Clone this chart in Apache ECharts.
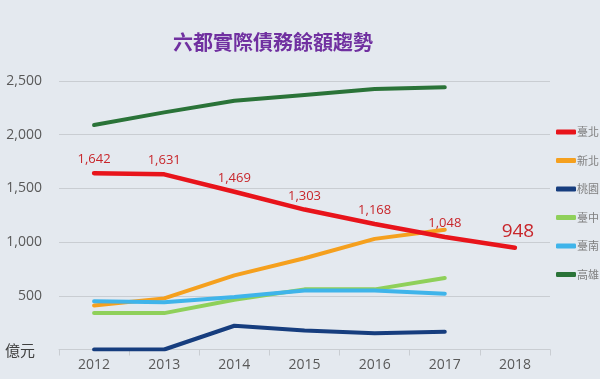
<!DOCTYPE html>
<html>
<head>
<meta charset="utf-8">
<script src="https://cdn.jsdelivr.net/npm/echarts@6/dist/echarts.min.js"></script>
<style>html,body{margin:0;padding:0;background:#e4e9ef;}#c{width:600px;height:379px;}</style>
</head>
<body>
<div id="c"></div>
<script>
const years = ['2012','2013','2014','2015','2016','2017','2018'];
const taipei   = [1642, 1631, 1469, 1303, 1168, 1048, 948];
const newTaipei= [410, 476, 690, 850, 1030, 1115, null];
const taoyuan  = [0, 0, 221, 177, 152, 165, null];
const taichung = [339, 339, 463, 560, 560, 665, null];
const tainan   = [450, 441, 488, 550, 550, 520, null];
const kaohsiung= [2090, 2208, 2317, 2370, 2425, 2441, null];
const yTicks = [0, 500, 1000, 1500, 2000, 2500];

const chart = echarts.init(document.getElementById('c'));
const font = '"Open Sans", "Liberation Sans", "Noto Sans CJK TC", sans-serif';
function line(name, data, color, extra) {
  return Object.assign({
    name, type: 'line', data, showSymbol: false, symbol: 'none',
    lineStyle: { width: 4, color, cap: 'round', join: 'round' },
    itemStyle: { color }, connectNulls: false, z: 2
  }, extra || {});
}
chart.setOption({
  backgroundColor: '#e4e9ef',
  animation: false,
  title: {
    text: '六都實際債務餘額趨勢', left: 168, top: 27,
    textStyle: { color: '#7030a0', fontSize: 20, fontWeight: 'bold', fontFamily: '"Noto Sans CJK TC", sans-serif' }
  },
  legend: {
    orient: 'vertical', left: 556, top: 125, padding: 0, itemWidth: 20, itemHeight: 5, itemGap: 14.5,
    icon: 'roundRect',
    textStyle: { color: '#7f7f7f', fontSize: 11, lineHeight: 14, padding: [0, 0, 0, -4], fontFamily: '"Noto Sans CJK TC", sans-serif' },
    data: ['臺北','新北','桃園','臺中','臺南','高雄']
  },
  grid: { left: 59, right: 50, top: 81, bottom: 29.5 },
  xAxis: {
    type: 'category', data: years, boundaryGap: true,
    axisLine: { lineStyle: { color: '#c9cdd2' } },
    axisTick: { show: true, length: 6, lineStyle: { color: '#c9cdd2' } },
    axisLabel: { color: '#595959', fontSize: 14, margin: 9, fontFamily: font }
  },
  yAxis: {
    type: 'value', min: 0, max: 2500, interval: 500,
    axisLine: { show: false }, axisTick: { show: false },
    splitLine: { lineStyle: { color: '#c9cdd2', width: 1 } },
    axisLabel: {
      color: '#595959', fontSize: 14, margin: 17, fontFamily: font,
      formatter: v => v === 0 ? '' : v.toLocaleString('en-US')
    }
  },
  graphic: [{
    type: 'text', left: 5, top: 343,
    style: { text: '億元', fill: '#404040', font: '15px "Noto Sans CJK TC", sans-serif' }
  }],
  series: [
    line('臺北', taipei, '#e8141b', {
      z: 5, showSymbol: true, symbol: 'circle', symbolSize: 0.1,
      lineStyle: { width: 4.5, color: '#e8141b', cap: 'round', join: 'round' },
      label: {
        show: true, position: 'top', distance: 7, color: '#c8262b', fontSize: 13, fontFamily: font,
        formatter: p => p.value.toLocaleString('en-US')
      },
      data: taipei.map((v, i) => i === taipei.length - 1
        ? { value: v, label: { fontSize: 19, offset: [3, 0] } } : v)
    }),
    line('新北', newTaipei, '#f5a01e'),
    line('桃園', taoyuan, '#163d7e'),
    line('臺中', taichung, '#8fd05a'),
    line('臺南', tainan, '#3fb4ea'),
    line('高雄', kaohsiung, '#2a7338')
  ]
});
</script>
</body>
</html>
